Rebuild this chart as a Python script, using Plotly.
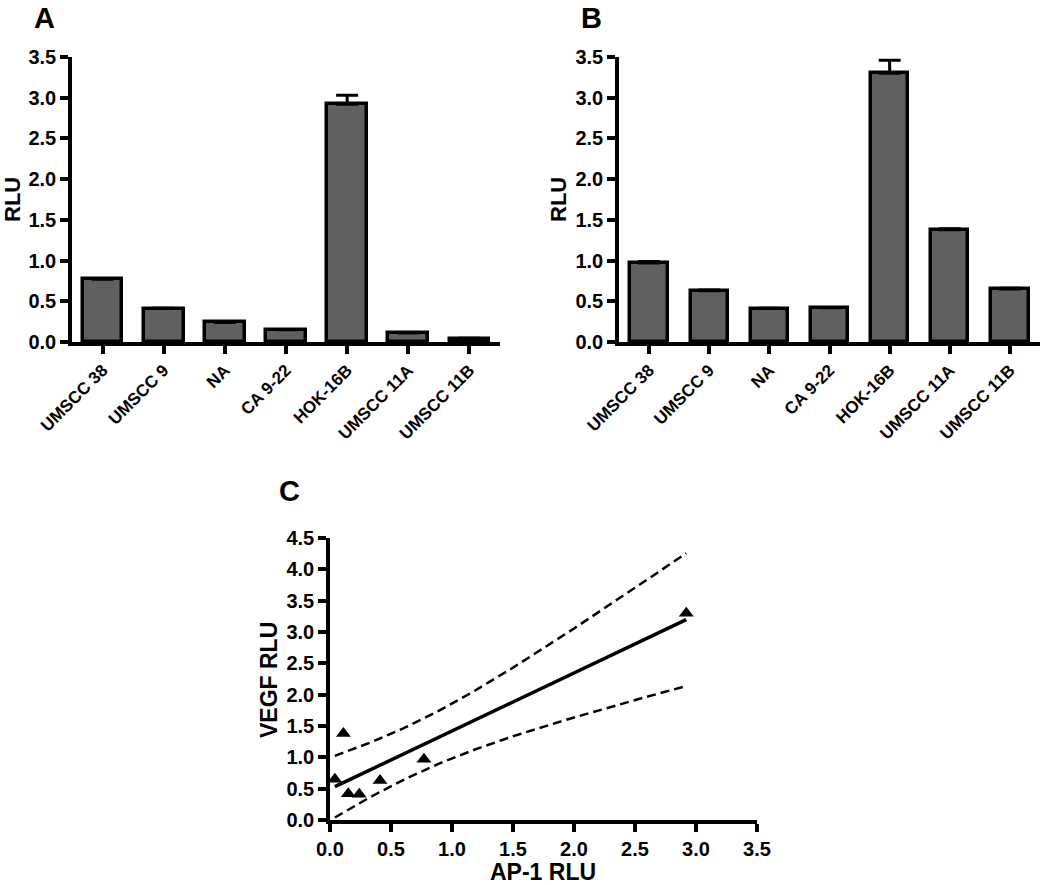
import numpy as np
import plotly.graph_objects as go

# ---------------- data ----------------
cell_lines = ["UMSCC 38", "UMSCC 9", "NA", "CA 9-22", "HOK-16B", "UMSCC 11A", "UMSCC 11B"]
ap1_rlu = [0.77, 0.41, 0.24, 0.15, 2.92, 0.11, 0.04]
ap1_err = [0.01, 0.005, 0.005, 0.005, 0.11, 0.005, 0.005]
vegf_rlu = [0.97, 0.63, 0.41, 0.42, 3.30, 1.38, 0.65]
vegf_err = [0.02, 0.01, 0.005, 0.005, 0.16, 0.01, 0.01]
rlu_ticks = [0.0, 0.5, 1.0, 1.5, 2.0, 2.5, 3.0, 3.5]
vegf_ticks = [0.0, 0.5, 1.0, 1.5, 2.0, 2.5, 3.0, 3.5, 4.0, 4.5]
T_CRIT_DF5 = 2.5706  # two-sided 95% t value, 5 degrees of freedom

W, H = 1050, 885
FONT = "Liberation Sans, Arial, sans-serif"
BAR_FILL = "#606060"


def px_x(p):
    return p / W


def px_y(p):
    return 1 - p / H


fig = go.Figure()

# ---- Panel A ----
fig.add_trace(go.Bar(
    x=cell_lines, y=ap1_rlu, xaxis="x", yaxis="y", width=0.65,
    marker=dict(color=BAR_FILL, line=dict(color="black", width=3.5)),
    error_y=dict(type="data", symmetric=False, array=ap1_err,
                 arrayminus=[0] * len(ap1_err), color="black", thickness=3, width=11),
    showlegend=False, hoverinfo="x+y"))

# ---- Panel B ----
fig.add_trace(go.Bar(
    x=cell_lines, y=vegf_rlu, xaxis="x2", yaxis="y2", width=0.62,
    marker=dict(color=BAR_FILL, line=dict(color="black", width=3.5)),
    error_y=dict(type="data", symmetric=False, array=vegf_err,
                 arrayminus=[0] * len(vegf_err), color="black", thickness=3, width=11),
    showlegend=False, hoverinfo="x+y"))

# ---- Panel C: scatter, linear fit and 95% confidence band ----
xa = np.array(ap1_rlu)
ya = np.array(vegf_rlu)
n = len(xa)
slope, intercept = np.polyfit(xa, ya, 1)
resid = ya - (slope * xa + intercept)
s = np.sqrt(np.sum(resid ** 2) / (n - 2))
sxx = np.sum((xa - xa.mean()) ** 2)
xf = np.linspace(xa.min(), xa.max(), 120)
yf = slope * xf + intercept
half = T_CRIT_DF5 * s * np.sqrt(1.0 / n + (xf - xa.mean()) ** 2 / sxx)

fig.add_trace(go.Scatter(x=xf, y=yf + half, mode="lines", xaxis="x3", yaxis="y3",
                         line=dict(color="black", width=2.5, dash="9px,5px"),
                         showlegend=False, hoverinfo="skip"))
fig.add_trace(go.Scatter(x=xf, y=yf - half, mode="lines", xaxis="x3", yaxis="y3",
                         line=dict(color="black", width=2.5, dash="9px,5px"),
                         showlegend=False, hoverinfo="skip"))
fig.add_trace(go.Scatter(x=xf, y=yf, mode="lines", xaxis="x3", yaxis="y3",
                         line=dict(color="black", width=3.5),
                         showlegend=False, hoverinfo="skip"))
fig.add_trace(go.Scatter(x=ap1_rlu, y=vegf_rlu, mode="markers", xaxis="x3", yaxis="y3",
                         marker=dict(symbol="triangle-up", size=13, color="black"),
                         text=cell_lines, showlegend=False))

tickfont = dict(family=FONT, size=20, color="black", weight="bold")
catfont = dict(family=FONT, size=17, color="black", weight="bold")

axis_common = dict(showline=True, linewidth=3.5, linecolor="black", ticks="outside",
                   ticklen=8, tickwidth=3.5, tickcolor="black", showgrid=False,
                   zeroline=False, mirror=False, automargin=False)

layout = dict(
    template="none",
    width=W, height=H, autosize=False,
    margin=dict(l=0, r=0, t=0, b=0, pad=0),
    paper_bgcolor="white", plot_bgcolor="white",
    font=dict(family=FONT, color="black"),
    bargap=0,
    # Panel A
    xaxis=dict(domain=[px_x(72), px_x(500)], anchor="y", type="category",
               range=[-0.5, 6.5], tickangle=-45, tickfont=catfont, **axis_common),
    yaxis=dict(domain=[px_y(342), px_y(57)], anchor="x", range=[0, 3.5],
               tickvals=rlu_ticks, tickformat=".1f", tickfont=tickfont, **axis_common),
    # Panel B
    xaxis2=dict(domain=[px_x(619), px_x(1040)], anchor="y2", type="category",
                range=[-0.5, 6.5], tickangle=-45, tickfont=catfont, **axis_common),
    yaxis2=dict(domain=[px_y(342), px_y(57)], anchor="x2", range=[0, 3.5],
                tickvals=rlu_ticks, tickformat=".1f", tickfont=tickfont, **axis_common),
    # Panel C
    xaxis3=dict(domain=[px_x(330), px_x(757)], anchor="y3", range=[0, 3.5],
                tickvals=rlu_ticks, tickformat=".1f", tickfont=tickfont, **axis_common),
    yaxis3=dict(domain=[px_y(820), px_y(538)], anchor="x3", range=[0, 4.5],
                tickvals=vegf_ticks, tickformat=".1f", tickfont=tickfont, **axis_common),
)
fig.update_layout(**layout)

def ann(text, x, y, size, angle=0):
    fig.add_annotation(text=text, x=px_x(x), y=px_y(y), xref="paper", yref="paper",
                       showarrow=False, textangle=angle, xanchor="center", yanchor="middle",
                       font=dict(family=FONT, size=size, color="black", weight="bold"))

ann("A", 44, 18, 29)
ann("B", 591, 18, 29)
ann("C", 289, 491, 29)
ann("RLU", 12, 200, 22, -90)
ann("RLU", 558, 200, 22, -90)
ann("VEGF RLU", 269, 680, 23, -90)
ann("AP-1 RLU", 543, 872, 23)

fig.write_html(
    "out.html",
    config={"displayModeBar": False},
    post_script="document.body.style.margin='0px';document.body.style.overflow='hidden';",
)
